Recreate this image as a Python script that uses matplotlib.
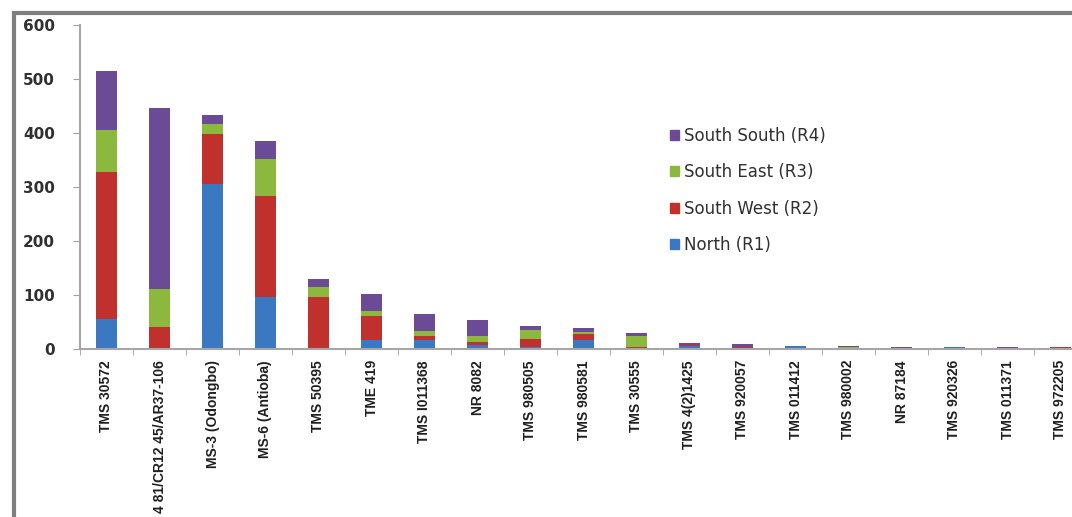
import matplotlib
matplotlib.use("Agg")
import matplotlib.pyplot as plt
from matplotlib.patches import Rectangle, Patch
import numpy as np

varieties = ["TMS 30572", "TMS 4 81/CR12 45/AR37-106", "MS-3 (Odongbo)", "MS-6 (Antioba)",
             "TMS 50395", "TME 419", "TMS I011368", "NR 8082", "TMS 980505",
             "TMS 980581", "TMS 30555", "TMS 4(2)1425", "TMS 920057", "TMS 011412",
             "TMS 980002", "NR 87184", "TMS 920326", "TMS 011371", "TMS 972205"]

north = [56, 2, 306, 97, 2, 17, 16, 8, 4, 16, 0, 5, 2, 5, 0, 0, 3, 0, 0]
south_west = [272, 38, 92, 186, 95, 45, 9, 5, 14, 12, 4, 3, 1, 0, 1, 0, 0, 0, 3]
south_east = [78, 71, 18, 69, 17, 8, 8, 11, 18, 4, 21, 0, 0, 0, 3, 0, 0, 0, 0]
south_south = [109, 336, 17, 34, 16, 32, 31, 29, 7, 7, 5, 4, 6, 1, 2, 3, 0, 3, 0]

series = [("North (R1)", north, "#3a78c2"),
          ("South West (R2)", south_west, "#c0312e"),
          ("South East (R3)", south_east, "#8cb83e"),
          ("South South (R4)", south_south, "#6c4b96")]

fig = plt.figure(figsize=(10.72, 5.17), dpi=100)
ax = fig.add_axes([80 / 1072, 168 / 517, 1007 / 1072, 324 / 517])

x = np.arange(len(varieties))
bottom = np.zeros(len(varieties))
for name, vals, col in series:
    vals = np.array(vals, dtype=float)
    ax.bar(x, vals, width=0.4, bottom=bottom, color=col, label=name)
    bottom += vals

ax.set_xlim(-0.5, len(varieties) - 0.5)
ax.set_ylim(0, 600)
ax.set_yticks(range(0, 601, 100))
ax.set_xticks(x)
ax.set_xticklabels(varieties, rotation=90, va="top", ha="center",
                   family="Liberation Sans", fontweight="bold",
                   fontsize=10, color="#202020")
ax.set_xticks(np.arange(-0.5, len(varieties), 1.0), minor=True)
ax.tick_params(axis="x", which="major", length=0, pad=8)
ax.tick_params(axis="x", which="minor", length=4, color="#a0a0a0", direction="out")
ax.tick_params(axis="y", length=5, color="#a0a0a0", pad=13)
for lab in ax.get_yticklabels():
    lab.set_fontweight("bold")
    lab.set_fontsize(11)
    lab.set_color("#303030")

for side in ("top", "right"):
    ax.spines[side].set_visible(False)
for side in ("left", "bottom"):
    ax.spines[side].set_color("#a6a6a6")
    ax.spines[side].set_linewidth(1.5)

handles = [Patch(color=col, label=name) for name, vals, col in series][::-1]
fig.legend(handles=handles, loc="upper left", bbox_to_anchor=(655 / 1072, 1 - 112 / 517),
           frameon=False, fontsize=12, labelspacing=1.1, handlelength=0.55,
           handleheight=0.55, handletextpad=0.3, labelcolor="#303030")

# outer chart border
fig.add_artist(Rectangle((14 / 1072, -0.1), 1.2, 1 - 13 / 517 + 0.1,
                         transform=fig.transFigure, fill=False,
                         edgecolor="#7f7f7f", linewidth=3))

fig.savefig("out.png", dpi=100)
